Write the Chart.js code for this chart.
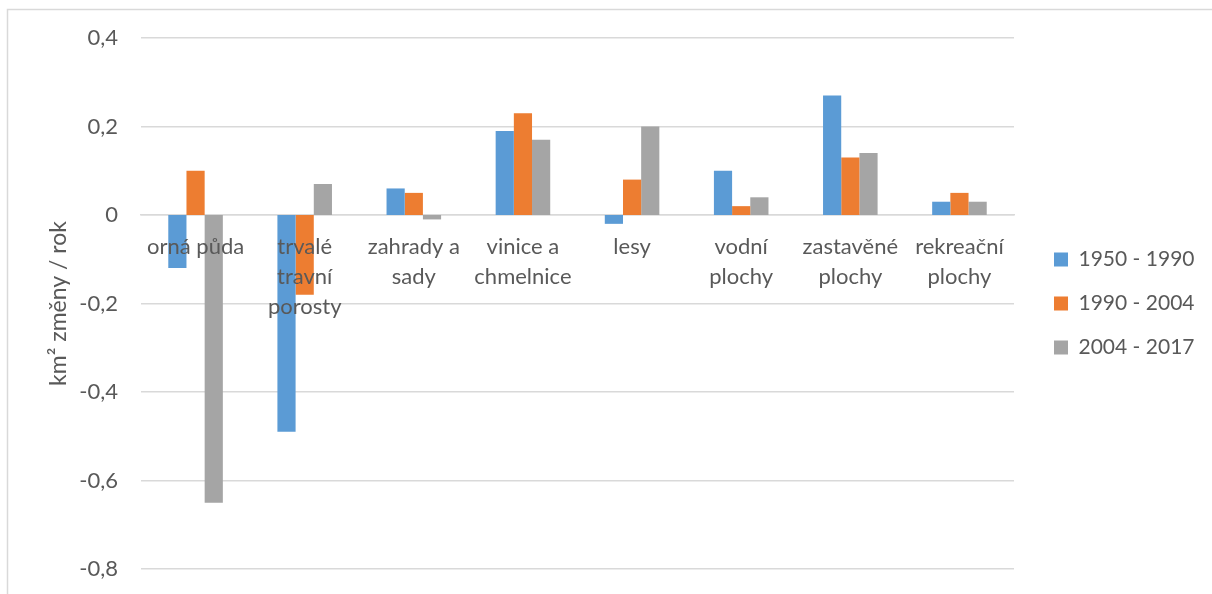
<!DOCTYPE html>
<html lang="cs">
<head>
<meta charset="utf-8">
<title>Roční změny využití území</title>
<script src="https://cdn.jsdelivr.net/npm/chart.js@4.4.1/dist/chart.umd.min.js"></script>
<style>
  html, body { margin: 0; padding: 0; background: #fff; }
  #wrap { width: 1212px; height: 594px; }
</style>
</head>
<body>
<div id="wrap"><canvas id="chart" width="1212" height="594"></canvas></div>
<script>
// Kategorie využití území (víceřádkové popisky)
const categories = [
  'orná půda',
  ['trvalé', 'travní', 'porosty'],
  ['zahrady a', 'sady'],
  ['vinice a', 'chmelnice'],
  'lesy',
  ['vodní', 'plochy'],
  ['zastavěné', 'plochy'],
  ['rekreační', 'plochy']
];

// Období
const seriesNames = ['1950 - 1990', '1990 - 2004', '2004 - 2017'];

// Průměrná roční změna výměry (km² / rok)
const values1950_1990 = [-0.12, -0.49, 0.06, 0.19, -0.02, 0.10, 0.27, 0.03];
const values1990_2004 = [0.10, -0.18, 0.05, 0.23, 0.08, 0.02, 0.13, 0.05];
const values2004_2017 = [-0.65, 0.07, -0.01, 0.17, 0.20, 0.04, 0.14, 0.03];

// Osa Y
const yMin = -0.8, yMax = 0.4, yStep = 0.2;
const yTitle = 'km² změny / rok';

const colors = ['#5B9BD5', '#ED7D31', '#A5A5A5'];
const textColor = '#595959';
const gridColor = '#D9D9D9';
const fontFamily = 'Lato, "Open Sans", sans-serif';

// Rámeček a bílé pozadí grafu
const frame = {
  id: 'frame',
  beforeDraw(chart) {
    const ctx = chart.ctx;
    ctx.save();
    ctx.fillStyle = '#ffffff';
    ctx.fillRect(0, 0, chart.width, chart.height);
    ctx.strokeStyle = gridColor;
    ctx.lineWidth = 1.5;
    ctx.beginPath();
    ctx.moveTo(7.5, chart.height);
    ctx.lineTo(7.5, 9.5);
    ctx.lineTo(chart.width, 9.5);
    ctx.stroke();
    ctx.restore();
  }
};

const datasets = [values1950_1990, values1990_2004, values2004_2017].map((vals, i) => ({
  label: seriesNames[i],
  data: vals,
  backgroundColor: colors[i],
  borderWidth: 0,
  barPercentage: 1.0,
  categoryPercentage: 0.5,
  yAxisID: 'y'
}));

new Chart(document.getElementById('chart'), {
  type: 'bar',
  data: { labels: categories, datasets },
  plugins: [frame],
  options: {
    responsive: false,
    animation: false,
    layout: { padding: { left: 45, top: 38, bottom: 25, right: 7.5 } },
    plugins: {
      legend: {
        position: 'right',
        align: 'center',
        labels: {
          color: textColor,
          font: { family: fontFamily, size: 21 },
          boxWidth: 14,
          boxHeight: 14,
          padding: 23
        }
      },
      tooltip: { enabled: false }
    },
    scales: {
      x: {
        position: { y: 0 },
        grid: { display: false, drawTicks: false },
        border: { display: true, color: gridColor, width: 1.5 },
        ticks: {
          z: 1,
          color: textColor,
          font: { family: fontFamily, size: 22, lineHeight: 1.364 },
          padding: 17,
          maxRotation: 0,
          autoSkip: false
        }
      },
      y: {
        min: yMin,
        max: yMax,
        afterFit(scale) { scale.width = 141 - 45; },
        grid: {
          color: gridColor,
          lineWidth: 1.5,
          drawTicks: true,
          tickLength: 23,
          tickColor: 'rgba(0,0,0,0)'
        },
        border: { display: false },
        ticks: {
          stepSize: yStep,
          color: textColor,
          padding: 0,
          font: { family: fontFamily, size: 22 },
          callback: v => String(Number(v.toFixed(1))).replace('.', ',')
        },
        title: {
          display: true,
          text: yTitle,
          color: textColor,
          font: { family: fontFamily, size: 23 },
          padding: 0
        }
      },
      // prázdný pruh mezi plochou grafu a legendou
      gap: {
        type: 'linear',
        position: 'right',
        display: true,
        grid: { display: false, drawTicks: false },
        border: { display: false },
        ticks: { display: false },
        afterFit(scale) { scale.width = 17; }
      }
    }
  }
});
</script>
</body>
</html>
